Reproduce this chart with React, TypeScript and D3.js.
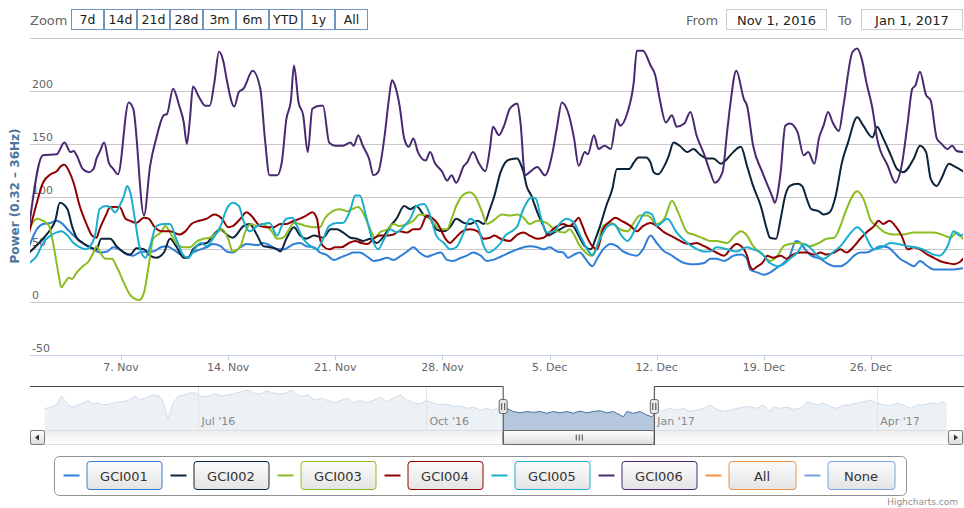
import React from "react";
import * as d3 from "d3";

type P = [number, number];

// ---------- data ----------
const SERIES_NAMES = ["GCI001", "GCI002", "GCI003", "GCI004", "GCI005", "GCI006"];
const LEGEND_EXTRA = ["All", "None"];
const COLORS = ["#2f7ed8", "#0d233a", "#8bbc21", "#910000", "#1aadce", "#492970", "#f28f43", "#77a1e5"];
const ZOOM_BUTTONS = ["7d", "14d", "21d", "28d", "3m", "6m", "YTD", "1y", "All"];
const FROM_LABEL = "Nov 1, 2016";
const TO_LABEL = "Jan 1, 2017";
const Y_GRID = [-50, 0, 50, 100, 150, 200, 250];
const Y_LABELS = [-50, 0, 50, 100, 150, 200];
const Y_TITLE = "Power (0.32 – 36Hz)";

// [days since 1 Nov 2016, power]
const GCI001: P[] = [[0,53],[0.5,69],[0.9,74],[1.4,75],[1.8,77],[2.1,75],[2.5,69],[2.9,63],[3.3,58],[3.8,53],[4.2,50],[4.6,47],[5.1,48],[5.5,52],[5.9,50],[6.4,45],[6.8,44],[7.2,47],[7.7,48],[8.1,48],[8.6,52],[9.0,53],[9.4,50],[9.9,45],[10.3,42],[10.7,47],[11.2,50],[11.6,52],[12.0,55],[12.5,53],[12.9,48],[13.3,47],[13.8,52],[14.2,55],[14.9,54],[15.3,56],[15.7,54],[16.2,50],[16.6,50],[17.3,55],[17.7,56],[18.1,53],[18.6,52],[19.0,47],[19.4,45],[19.9,40],[20.3,42],[20.8,45],[21.2,47],[21.6,47],[22.1,43],[22.5,39],[22.9,40],[23.4,42],[23.8,40],[24.2,43],[24.7,48],[25.1,52],[25.5,47],[26.0,43],[26.4,45],[26.9,47],[27.3,40],[27.7,39],[28.2,42],[28.6,44],[29.0,47],[29.5,44],[29.9,39],[30.3,40],[30.8,43],[31.4,47],[31.9,50],[32.3,52],[32.7,53],[33.2,52],[33.6,50],[34.0,52],[34.5,48],[34.9,47],[35.2,42],[35.6,45],[36.0,47],[36.3,42],[36.8,34],[37.1,41],[37.5,50],[38.0,55],[38.4,53],[38.8,48],[39.3,45],[39.7,44],[40.1,50],[40.6,63],[41.0,56],[41.5,48],[41.9,45],[42.3,41],[42.8,37],[43.2,36],[43.6,36],[44.1,37],[44.5,41],[44.9,41],[45.4,39],[45.7,41],[46.0,44],[46.5,45],[46.9,41],[47.1,31],[47.6,28],[48.0,26],[48.4,28],[48.9,33],[49.3,37],[49.7,44],[50.1,58],[50.4,56],[50.7,50],[51.1,44],[51.7,41],[52.1,37],[52.6,34],[53.0,34],[53.4,37],[53.9,44],[54.3,47],[54.7,47],[55.2,50],[55.6,53],[56.1,52],[56.5,47],[56.9,41],[57.4,37],[57.8,34],[58.2,39],[58.7,34],[59.1,31],[59.5,31],[60.0,31],[60.4,31],[61,32]];

const GCI002: P[] = [[0,47],[0.9,60],[1.4,69],[1.7,77],[2.0,94],[2.5,88],[2.8,72],[3.1,61],[3.5,56],[4.0,52],[4.4,50],[4.7,60],[5.3,60],[5.7,53],[6.2,47],[6.6,45],[7.0,51],[7.5,50],[7.9,44],[8.3,42],[8.8,47],[9.2,60],[9.6,53],[10.1,42],[10.4,42],[10.7,50],[11.2,55],[11.6,56],[12.0,63],[12.5,69],[12.9,64],[13.3,61],[14.0,72],[14.4,74],[14.9,63],[15.3,53],[15.7,52],[16.2,50],[16.4,48],[16.8,60],[17.3,71],[17.7,63],[18.1,60],[18.6,63],[19.2,61],[19.7,69],[20.1,69],[20.5,66],[21.0,61],[21.4,60],[21.8,58],[22.3,60],[22.7,56],[23.2,63],[23.6,72],[24.0,79],[24.5,91],[24.9,88],[25.3,91],[25.8,82],[26.2,79],[26.6,69],[27.1,67],[27.5,71],[27.9,79],[28.4,75],[28.8,74],[29.3,77],[29.7,74],[30.1,88],[30.4,101],[30.8,123],[31.1,132],[31.4,135],[31.9,136],[32.1,131],[32.3,123],[32.5,110],[32.8,101],[33.2,85],[33.6,72],[33.9,63],[34.3,66],[34.7,69],[35.1,72],[35.5,72],[35.9,63],[36.3,53],[36.7,50],[37.0,60],[37.3,72],[37.7,91],[38.1,107],[38.4,126],[38.8,126],[39.2,126],[39.5,132],[39.8,137],[40.3,137],[40.6,132],[40.8,123],[41.1,121],[41.5,129],[41.8,139],[42.1,151],[42.5,148],[43.0,142],[43.4,145],[43.8,140],[44.3,136],[44.7,136],[45.2,131],[45.5,134],[46.0,142],[46.5,147],[46.9,129],[47.3,110],[47.8,91],[48.2,69],[48.4,61],[48.8,60],[49.1,79],[49.4,101],[49.7,110],[50.2,112],[50.5,110],[50.8,98],[51.1,88],[51.6,86],[51.9,83],[52.3,85],[52.7,101],[53.1,132],[53.5,151],[54.1,175],[54.5,167],[55.1,156],[55.4,166],[55.8,155],[56.3,139],[56.7,126],[57.1,123],[57.8,136],[58.2,148],[58.6,142],[58.9,117],[59.3,110],[59.6,117],[60.1,131],[60.4,129],[61,124]];

const GCI003: P[] = [[0,69],[0.5,79],[0.9,77],[1.3,72],[1.6,53],[1.9,28],[2.1,14],[2.3,18],[2.6,23],[2.8,22],[3.1,28],[3.5,34],[3.9,39],[4.2,47],[4.4,53],[4.6,48],[5.0,41],[5.4,41],[5.7,34],[6.2,18],[6.5,9],[6.8,4],[7.2,2],[7.5,9],[7.8,34],[8.1,60],[8.6,66],[8.9,72],[9.2,66],[9.6,56],[10.1,52],[10.5,52],[11.0,58],[11.4,60],[11.8,61],[12.3,66],[12.6,69],[13.0,60],[13.3,48],[13.8,53],[14.1,66],[14.5,74],[14.9,72],[15.2,74],[15.5,72],[15.9,66],[16.2,60],[16.6,61],[16.9,67],[17.3,75],[17.7,74],[18.1,72],[18.6,71],[19.0,71],[19.3,79],[19.8,86],[20.3,88],[20.8,86],[21.1,88],[21.5,90],[21.8,85],[22.2,72],[22.6,61],[22.9,66],[23.4,69],[23.8,74],[24.2,72],[24.7,74],[25.1,77],[25.5,83],[26.0,82],[26.4,75],[27.0,69],[27.3,69],[27.6,79],[27.9,91],[28.4,102],[28.8,104],[29.1,101],[29.6,85],[29.9,74],[30.3,77],[30.9,83],[31.4,82],[31.9,83],[32.3,80],[32.7,74],[33.2,77],[33.8,75],[34.5,67],[35.0,66],[35.3,69],[36.0,53],[36.7,44],[37.1,53],[37.5,72],[38.0,75],[38.6,69],[39.1,67],[39.5,75],[39.9,82],[40.4,82],[41.0,74],[41.5,79],[42.0,96],[42.4,85],[43.0,66],[43.4,64],[44.1,60],[44.5,58],[44.9,58],[45.6,56],[46.1,63],[46.5,67],[46.9,63],[47.3,53],[48.0,44],[48.4,39],[48.9,44],[49.3,53],[49.7,55],[50.2,56],[50.6,55],[51.0,53],[51.6,56],[52.1,60],[52.6,61],[53.0,72],[53.4,88],[54.1,105],[54.5,98],[55.0,77],[55.4,72],[55.9,66],[56.5,64],[57.1,64],[57.8,66],[58.4,66],[59.1,66],[59.8,63],[60.2,61],[60.6,66],[61,60]];

const GCI004: P[] = [[0,66],[0.5,94],[0.9,113],[1.4,121],[1.8,124],[2.1,129],[2.3,130],[2.6,124],[2.9,113],[3.3,91],[3.8,72],[4.1,63],[4.4,61],[4.6,69],[5.0,82],[5.3,90],[5.6,90],[5.9,90],[6.3,79],[6.6,77],[7.0,75],[7.5,80],[7.8,79],[8.2,71],[8.7,67],[9.2,67],[9.8,64],[10.2,67],[10.6,74],[11.1,77],[11.6,79],[12.1,83],[12.6,79],[13.0,71],[13.3,72],[13.8,79],[14.2,85],[14.5,82],[15.1,72],[15.5,71],[16.0,71],[16.4,74],[16.8,74],[17.3,77],[17.7,79],[18.1,82],[18.5,85],[18.8,79],[19.0,60],[19.2,53],[19.6,50],[20.0,52],[20.4,52],[20.9,56],[21.3,58],[21.7,56],[22.1,55],[22.5,60],[22.9,63],[23.4,63],[23.8,64],[24.2,67],[24.7,66],[25.1,69],[25.5,69],[26.0,82],[26.3,80],[26.7,74],[27.2,60],[27.5,56],[27.8,60],[28.3,67],[28.8,69],[29.3,67],[29.7,60],[30.1,61],[30.4,63],[30.8,60],[31.4,58],[31.9,64],[32.3,66],[32.7,63],[33.2,60],[33.6,61],[34.0,66],[34.5,72],[34.9,74],[35.3,72],[35.7,77],[35.9,80],[36.1,74],[36.4,63],[36.8,53],[37.1,50],[37.5,69],[38.0,77],[38.3,80],[38.7,77],[39.3,72],[39.7,67],[40.1,72],[40.6,75],[41.0,72],[41.5,66],[41.9,63],[42.3,60],[42.8,56],[43.2,55],[43.6,56],[44.1,53],[44.5,50],[44.9,47],[45.4,44],[45.8,50],[46.2,55],[46.7,50],[46.9,44],[47.1,34],[47.3,31],[47.5,33],[48.0,39],[48.2,44],[48.6,42],[49.1,44],[49.5,41],[49.9,45],[50.4,47],[50.8,47],[51.3,45],[51.7,47],[52.1,45],[52.6,47],[53.0,50],[53.4,47],[53.9,53],[54.3,60],[54.7,66],[55.2,72],[55.5,77],[55.8,74],[56.2,77],[56.6,72],[57.0,63],[57.4,50],[57.8,52],[58.2,50],[58.7,45],[59.1,42],[59.5,39],[60.0,37],[60.4,36],[60.8,38],[61,41]];

const GCI005: P[] = [[0,37],[0.5,44],[0.9,56],[1.4,63],[1.8,66],[2.1,67],[2.5,63],[2.9,56],[3.3,52],[3.7,50],[4.0,53],[4.3,63],[4.6,88],[5.0,91],[5.3,90],[5.6,85],[5.9,91],[6.2,101],[6.4,110],[6.6,104],[6.9,79],[7.2,53],[7.6,42],[7.9,53],[8.3,72],[8.8,74],[9.2,74],[9.6,60],[10.1,44],[10.4,42],[10.8,50],[11.2,56],[11.6,53],[12.0,60],[12.5,72],[12.9,88],[13.3,94],[13.7,91],[14.0,77],[14.4,67],[14.9,72],[15.3,74],[15.7,75],[16.2,63],[16.5,72],[16.8,79],[17.2,80],[17.5,72],[17.9,60],[18.4,53],[18.8,50],[19.2,60],[19.6,72],[20.1,75],[20.5,75],[21.0,88],[21.3,101],[21.6,101],[22.0,82],[22.4,60],[22.8,50],[23.2,60],[23.6,69],[24.0,66],[24.5,72],[24.9,79],[25.3,91],[25.8,93],[26.2,82],[26.6,63],[27.1,56],[27.5,50],[27.9,52],[28.4,66],[28.8,79],[29.3,72],[29.7,53],[30.0,47],[30.4,50],[30.8,56],[31.1,63],[31.4,66],[31.9,72],[32.2,85],[32.5,94],[32.8,99],[33.1,98],[33.4,82],[33.8,66],[34.3,67],[34.7,75],[35.1,79],[35.6,75],[36.0,63],[36.6,47],[36.8,44],[37.3,60],[37.8,72],[38.2,74],[38.7,63],[39.1,58],[39.7,72],[40.3,85],[40.7,83],[41.0,72],[41.7,79],[42.3,66],[43.0,56],[43.4,52],[44.1,48],[44.5,48],[44.9,52],[45.6,50],[46.2,48],[46.9,52],[47.3,50],[47.8,47],[48.4,37],[48.9,34],[49.3,36],[49.7,41],[50.2,47],[50.6,55],[51.0,52],[51.5,44],[51.9,41],[52.5,47],[53.0,53],[53.7,66],[54.1,71],[54.5,66],[55.2,50],[55.7,52],[56.3,56],[56.8,55],[57.4,53],[57.9,52],[58.4,50],[59.1,45],[59.5,44],[60.0,53],[60.4,67],[60.8,63],[61,64]];

const GCI006: P[] = [[0,72],[0.9,139],[1.8,140],[2.3,151],[2.7,142],[2.9,143],[3.1,139],[3.5,126],[3.9,123],[4.2,126],[4.4,136],[4.6,142],[4.9,151],[5.2,132],[5.5,126],[5.8,121],[6.5,189],[6.8,183],[7.5,82],[7.9,129],[8.3,155],[8.8,177],[9.0,178],[9.4,202],[9.8,186],[10.1,170],[10.3,150],[10.5,173],[10.7,204],[11.1,194],[11.5,186],[11.8,186],[12.1,208],[12.4,237],[12.7,227],[12.9,211],[13.4,185],[13.7,199],[14.0,202],[14.6,219],[15.1,202],[15.4,155],[15.7,120],[16.2,120],[16.5,132],[16.8,173],[17.1,191],[17.3,224],[17.6,189],[17.9,177],[18.2,142],[18.5,183],[19.0,186],[19.2,186],[19.6,151],[20.0,148],[20.5,148],[21.0,151],[21.2,148],[21.5,158],[21.8,148],[22.2,136],[22.5,120],[22.8,123],[23.2,155],[23.5,192],[23.7,210],[23.9,205],[24.2,186],[24.5,155],[24.8,147],[25.1,155],[25.4,142],[25.9,134],[26.2,142],[26.5,132],[27.0,123],[27.3,115],[27.6,120],[27.9,113],[28.4,129],[28.6,132],[29.0,142],[29.4,131],[29.8,124],[30.1,145],[30.3,166],[30.7,158],[31.0,166],[31.4,183],[31.6,186],[31.9,188],[32.1,170],[32.4,120],[32.7,123],[33.2,128],[33.7,120],[34.2,142],[34.5,167],[34.8,189],[35.2,180],[35.6,155],[35.9,129],[36.3,142],[36.5,140],[36.9,158],[37.2,145],[37.6,148],[38.0,145],[38.4,173],[38.6,167],[39.1,180],[39.5,208],[39.7,238],[40.1,238],[40.6,224],[40.9,215],[41.2,192],[41.6,170],[42.0,177],[42.3,166],[42.8,169],[43.2,180],[43.6,158],[44.1,140],[44.5,123],[44.8,113],[45.3,123],[45.6,161],[45.8,186],[46.2,219],[46.7,192],[46.9,186],[47.3,148],[47.9,123],[48.6,98],[48.7,94],[49.1,123],[49.4,167],[49.7,169],[50.2,161],[50.6,139],[50.9,142],[51.3,131],[51.6,155],[51.9,167],[52.2,180],[52.5,170],[52.9,162],[53.2,186],[53.8,237],[54.1,240],[54.4,230],[54.7,208],[55.1,183],[55.4,155],[56.1,129],[56.6,113],[57.0,129],[57.4,170],[57.7,202],[57.9,205],[58.2,218],[58.6,196],[58.9,191],[59.3,155],[59.6,150],[60.0,145],[60.3,148],[60.6,143],[61,142]];

// navigator series: [days since 24 Apr 2016, value]
const NAV_SERIES: P[] = [[5.9,49],[8.6,51],[11.3,61],[12.7,77],[14.0,68],[15.3,57],[17.4,52],[19.4,57],[21.4,61],[23.4,67],[25.4,59],[27.5,62],[29.5,57],[32.2,59],[34.2,62],[36.9,64],[39.6,67],[42.3,77],[44.3,68],[46.3,72],[48.3,77],[50.3,80],[52.4,76],[53.7,64],[55.0,38],[55.7,27],[56.4,38],[57.7,61],[59.7,76],[62.5,80],[65.1,85],[67.1,83],[69.2,76],[71.9,77],[74.6,83],[77.2,77],[79.9,80],[82.6,83],[85.3,87],[88.0,91],[90.7,83],[93.4,82],[95.4,89],[97.4,85],[100.1,82],[102.8,83],[105.5,91],[107.5,82],[109.5,76],[112.2,80],[114.9,68],[117.6,72],[120.3,67],[123.0,62],[125.7,68],[128.4,72],[130.5,61],[133.2,67],[135.9,62],[138.6,67],[141.3,74],[144.0,64],[146.7,72],[149.4,80],[152.1,68],[154.7,62],[157.4,59],[160.1,67],[162.8,61],[165.5,57],[168.2,59],[170.9,53],[173.6,55],[176.3,49],[179.0,52],[181.7,45],[184.4,49],[187.0,45],[189.7,52],[192.4,49],[195.1,42],[197.8,39],[200.5,42],[203.2,40],[205.9,42],[208.6,38],[211.3,42],[214.0,39],[216.7,42],[219.3,38],[222.0,43],[224.7,39],[227.4,42],[230.1,44],[232.8,39],[235.5,42],[238.2,34],[239.5,30],[240.9,42],[243.6,38],[246.3,42],[249.0,34],[251.0,30],[253.0,42],[255.7,45],[258.4,49],[261.1,45],[263.7,49],[266.4,42],[269.2,45],[271.8,49],[274.5,57],[277.2,47],[279.9,42],[282.6,45],[285.3,49],[288.0,52],[290.7,53],[293.4,49],[296.0,57],[298.7,42],[300.1,53],[302.8,49],[305.5,52],[308.2,47],[310.9,49],[313.6,64],[314.9,62],[317.6,57],[320.3,61],[323.0,53],[325.7,49],[328.3,57],[331.0,57],[333.7,61],[336.4,64],[339.1,68],[341.8,61],[344.5,57],[347.2,55],[349.9,61],[352.6,57],[355.3,49],[358.0,57],[360.6,57],[363.3,61],[366.1,59],[368.7,64],[370.1,57]];

const SERIES_DATA: P[][] = [GCI001, GCI002, GCI003, GCI004, GCI005, GCI006];

// ---------- layout ----------
const W = 964;
const H = 508;
const FONT = "'Lucida Grande', 'Lucida Sans Unicode', 'DejaVu Sans', Verdana, sans-serif";
const DAY = 86400000;
const X_START = Date.UTC(2016, 10, 1);
const X_END = Date.UTC(2017, 0, 1);
const NAV_START = Date.UTC(2016, 3, 24);
const NAV_END = Date.UTC(2017, 4, 6);
const PL = 30, PR = 963, PT = 38, PB = 355;
const NT = 386, NB = 430, SB = 445;

export default function App() {
  const x = d3.scaleUtc().domain([new Date(X_START), new Date(X_END)]).range([29.2, 962.8]);
  const y = d3.scaleLinear().domain([-50, 250]).range([PB, PT]);
  const nx = d3.scaleUtc().domain([new Date(NAV_START), new Date(NAV_END)]).range([30, 964]);
  const ny = d3.scaleLinear().domain([0, 100]).range([NB, NT]);

  const line = d3
    .line<P>()
    .x((d) => x(new Date(X_START + d[0] * DAY)))
    .y((d) => y(d[1]))
    .curve(d3.curveMonotoneX);

  const navArea = d3
    .area<P>()
    .x((d) => nx(new Date(NAV_START + d[0] * DAY)))
    .y0(ny(0))
    .y1((d) => ny(d[1]));
  const navLine = d3
    .line<P>()
    .x((d) => nx(new Date(NAV_START + d[0] * DAY)))
    .y((d) => ny(d[1]));

  const xTicks = d3.utcMonday.range(new Date(X_START), new Date(X_END));
  const fmtX = d3.utcFormat("%-d. %b");
  const navTicks = d3.utcMonth.every(3)!.range(new Date(NAV_START), new Date(NAV_END));
  const fmtNav = d3.utcFormat("%b '%y");

  const s0 = nx(new Date(X_START));
  const s1 = nx(new Date(X_END));

  // legend layout
  const legendItems = [...SERIES_NAMES, ...LEGEND_EXTRA];
  let lx = 63.5;
  const legend = legendItems.map((name, i) => {
    const bw = i < SERIES_NAMES.length ? 75 : 67;
    const item = { name, color: COLORS[i], dash: lx, bx: lx + 23, bw };
    lx += 16 + 7 + bw + 9;
    return item;
  });

  return (
    <svg
      width={W}
      height={H}
      style={{ position: "absolute", left: 0, top: 0, background: "#fff" }}
      fontFamily={FONT}
    >
      <defs>
        <linearGradient id="btnGrad" x1="0" y1="0" x2="0" y2="1">
          <stop offset="0" stopColor="#fbfbfb" />
          <stop offset="1" stopColor="#e4e4e4" />
        </linearGradient>
        <linearGradient id="sbGrad" x1="0" y1="0" x2="0" y2="1">
          <stop offset="0" stopColor="#ffffff" />
          <stop offset="1" stopColor="#dcdcdc" />
        </linearGradient>
        <linearGradient id="trackGrad" x1="0" y1="0" x2="0" y2="1">
          <stop offset="0" stopColor="#eeeeee" />
          <stop offset="1" stopColor="#ffffff" />
        </linearGradient>
        <clipPath id="plotClip">
          <rect x={PL} y={PT - 2} width={PR - PL} height={PB - PT + 2} />
        </clipPath>
      </defs>

      {/* range selector */}
      <text x={30} y={25} fontSize={13} fill="#666">Zoom</text>
      {ZOOM_BUTTONS.map((b, i) => {
        const bx = 71.5 + i * 33;
        return (
          <g key={b + i}>
            <rect x={bx} y={9.5} width={32} height={20} fill="#fff" stroke="#7193c2" />
            <text x={bx + 16} y={24} fontSize={12.5} fill="#1a1a1a" textAnchor="middle">{b}</text>
          </g>
        );
      })}
      <text x={686} y={25} fontSize={13} fill="#666">From</text>
      <rect x={726.5} y={9.5} width={100} height={20} fill="#fff" stroke="#cccccc" />
      <text x={776.5} y={24.5} fontSize={13} fill="#222" textAnchor="middle">{FROM_LABEL}</text>
      <text x={838} y={25} fontSize={13} fill="#666">To</text>
      <rect x={861.5} y={9.5} width={101} height={20} fill="#fff" stroke="#cccccc" />
      <text x={912} y={24.5} fontSize={13} fill="#222" textAnchor="middle">{TO_LABEL}</text>

      {/* grid */}
      {Y_GRID.map((v) => (
        <line key={v} x1={PL} x2={W} y1={Math.round(y(v)) + 0.5} y2={Math.round(y(v)) + 0.5} stroke="#c8c8c8" />
      ))}
      <line x1={PL} x2={W} y1={PB + 0.5} y2={PB + 0.5} stroke="#c0d0e0" />
      {xTicks.map((t) => (
        <line key={+t} x1={Math.round(x(t)) + 0.5} x2={Math.round(x(t)) + 0.5} y1={PB} y2={PB + 5} stroke="#c0d0e0" />
      ))}

      {/* y labels */}
      {Y_LABELS.map((v) => (
        <text key={v} x={32} y={Math.round(y(v)) - 3} fontSize={11} fill="#666">{v}</text>
      ))}
      <text
        transform={`translate(19,196) rotate(-90)`}
        textAnchor="middle"
        fontSize={12}
        fontWeight="bold"
        fill="#4d759e"
      >
        {Y_TITLE}
      </text>

      {/* x labels */}
      {xTicks.map((t) => (
        <text key={+t} x={x(t)} y={371} fontSize={11} fill="#666" textAnchor="middle">{fmtX(t)}</text>
      ))}

      {/* series */}
      <g clipPath="url(#plotClip)">
        {SERIES_DATA.map((data, i) => (
          <path
            key={SERIES_NAMES[i]}
            d={line(data) || ""}
            fill="none"
            stroke={COLORS[i]}
            strokeWidth={2}
            strokeLinejoin="round"
            strokeLinecap="round"
          />
        ))}
      </g>

      {/* navigator */}
      <path d={navArea(NAV_SERIES) || ""} fill="#4572a7" fillOpacity={0.4} />
      <path d={navLine(NAV_SERIES) || ""} fill="none" stroke="#4572a7" strokeWidth={1} />
      <rect x={30} y={NT} width={s0 - 30} height={NB - NT} fill="#fff" fillOpacity={0.75} />
      <rect x={s1} y={NT} width={W - s1} height={NB - NT} fill="#fff" fillOpacity={0.75} />
      {navTicks.map((t) => (
        <g key={+t}>
          <line x1={Math.round(nx(t)) + 0.5} x2={Math.round(nx(t)) + 0.5} y1={NT} y2={NB} stroke="#e4e4e4" />
          <text x={nx(t) + 3} y={425} fontSize={11} fill="#888">{fmtNav(t)}</text>
        </g>
      ))}

      {/* scrollbar */}
      <rect x={30.5} y={NB + 0.5} width={933} height={14} fill="url(#trackGrad)" stroke="#dddddd" />
      <rect x={30.5} y={NB + 0.5} width={14} height={14} rx={2} fill="url(#sbGrad)" stroke="#777" />
      <path d={`M39,434.5 L39,440.5 L35,437.5 Z`} fill="#333" />
      <rect x={948.5} y={NB + 0.5} width={14} height={14} rx={2} fill="url(#sbGrad)" stroke="#777" />
      <path d={`M954,434.5 L954,440.5 L958,437.5 Z`} fill="#333" />
      <rect x={s0} y={NB + 0.5} width={s1 - s0} height={14} rx={2} fill="url(#sbGrad)" stroke="#666" />
      {[-3, 0, 3].map((o) => (
        <line key={o} x1={(s0 + s1) / 2 + o + 0.5} x2={(s0 + s1) / 2 + o + 0.5} y1={434.5} y2={440.5} stroke="#444" />
      ))}

      {/* outline */}
      <path
        d={`M${PL},${NT + 0.5} H${s0} V${SB} M${s1},${SB} V${NT + 0.5} H${W}`}
        fill="none"
        stroke="#444"
        strokeWidth={1}
      />

      {/* handles */}
      {[s0, s1].map((sx, i) => (
        <g key={i}>
          <rect x={sx - 4} y={399.5} width={8} height={14} rx={2} fill="#ebe7e8" stroke="#666" />
          <line x1={sx - 1.5} x2={sx - 1.5} y1={403} y2={410} stroke="#444" />
          <line x1={sx + 1.5} x2={sx + 1.5} y1={403} y2={410} stroke="#444" />
        </g>
      ))}

      {/* legend */}
      <rect x={54.5} y={456.5} width={852} height={39} rx={5} fill="#fff" stroke="#909090" />
      {legend.map((it) => (
        <g key={it.name}>
          <line x1={it.dash} x2={it.dash + 16} y1={475.5} y2={475.5} stroke={it.color} strokeWidth={2} />
          <rect x={it.bx + 0.5} y={461.5} width={it.bw} height={28} rx={3} fill="url(#btnGrad)" stroke={it.color} />
          <text x={it.bx + it.bw / 2} y={480.5} fontSize={13} fill="#333" textAnchor="middle">{it.name}</text>
        </g>
      ))}

      <text x={958} y={505} fontSize={9} fill="#909090" textAnchor="end">Highcharts.com</text>
    </svg>
  );
}
